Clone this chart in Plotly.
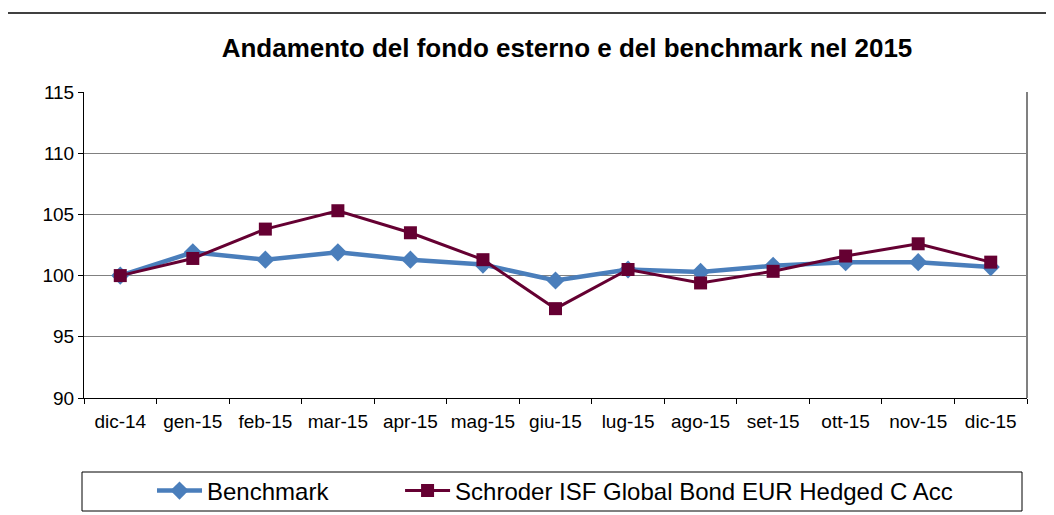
import plotly.graph_objects as go

categories = ["dic-14", "gen-15", "feb-15", "mar-15", "apr-15", "mag-15", "giu-15",
              "lug-15", "ago-15", "set-15", "ott-15", "nov-15", "dic-15"]
benchmark = [100.0, 101.9, 101.3, 101.9, 101.3, 100.9, 99.6, 100.5, 100.3, 100.8, 101.1, 101.1, 100.7]
schroder = [100.0, 101.4, 103.8, 105.3, 103.5, 101.3, 97.3, 100.5, 99.4, 100.35, 101.6, 102.6, 101.1]
y_ticks = [90, 95, 100, 105, 110, 115]

FONT = "Liberation Sans, Arial, sans-serif"
OFF = 8  # page body margin
W, H = 1054 - OFF, 515 - OFF
# target positions in window pixels
PL, PR, PT, PB = 84, 1027, 92, 398
L = PL - OFF
T = PT - OFF
R = W - (PR - OFF)
B = H - (PB - OFF)
pw = W - L - R
ph = H - T - B


def px_x(x):
    return (x - OFF - L) / pw


def px_y(y):
    return (H - B - (y - OFF)) / ph


GAP = "\u00a0" * 10

fig = go.Figure()
fig.add_trace(go.Scatter(
    x=categories, y=benchmark, name="Benchmark" + GAP, mode="lines+markers",
    line=dict(color="#4A7EBB", width=4.5),
    marker=dict(symbol="diamond", size=14, color="#4A7EBB"),
))
fig.add_trace(go.Scatter(
    x=categories, y=schroder, name="Schroder ISF Global Bond EUR Hedged C Acc",
    mode="lines+markers",
    line=dict(color="#650032", width=3),
    marker=dict(symbol="square", size=13, color="#650032"),
))

fig.update_layout(
    width=W, height=H,
    margin=dict(l=L, r=R, t=T, b=B, autoexpand=False),
    paper_bgcolor="white", plot_bgcolor="white",
    font=dict(family=FONT, size=19, color="black"),
    title=dict(text="<b>Andamento del fondo esterno e del benchmark nel 2015</b>",
               x=(567 - OFF) / W, xanchor="center", y=1 - (48 - OFF) / H, yanchor="middle",
               font=dict(family=FONT, size=26, color="black")),
    showlegend=True,
    legend=dict(orientation="h", x=px_x(555), xanchor="center", y=px_y(491), yanchor="middle",
                font=dict(family=FONT, size=24, color="black"),
                bgcolor="rgba(0,0,0,0)", itemwidth=45, tracegroupgap=0),
    xaxis=dict(type="category", tickson="boundaries", ticks="outside", ticklen=5,
               tickcolor="black", showline=True, linecolor="black", linewidth=1,
               mirror=False, showgrid=False, tickfont=dict(size=19), tickangle=0,
               ticklabelstandoff=6,
               automargin=False, range=[-0.5, len(categories) - 0.5]),
    yaxis=dict(range=[90, 115], tickvals=y_ticks, ticks="outside", ticklen=5,
               tickcolor="black", showline=True, linecolor="black", linewidth=1,
               showgrid=True, gridcolor="#808080", gridwidth=1, zeroline=False,
               tickfont=dict(size=19), automargin=False),
    shapes=[
        # top rule across page
        dict(type="line", xref="paper", yref="paper",
             x0=px_x(0), x1=px_x(1054), y0=px_y(13), y1=px_y(13),
             line=dict(color="black", width=1.5)),
        # right border of plot area
        dict(type="line", xref="paper", yref="paper", x0=1, x1=1, y0=0, y1=1,
             line=dict(color="#808080", width=2)),
        # legend box
        dict(type="rect", xref="paper", yref="paper",
             x0=px_x(82), x1=px_x(1022),
             y0=px_y(511), y1=px_y(472),
             line=dict(color="black", width=1)),
    ],
)

fig.write_html("out.html")
